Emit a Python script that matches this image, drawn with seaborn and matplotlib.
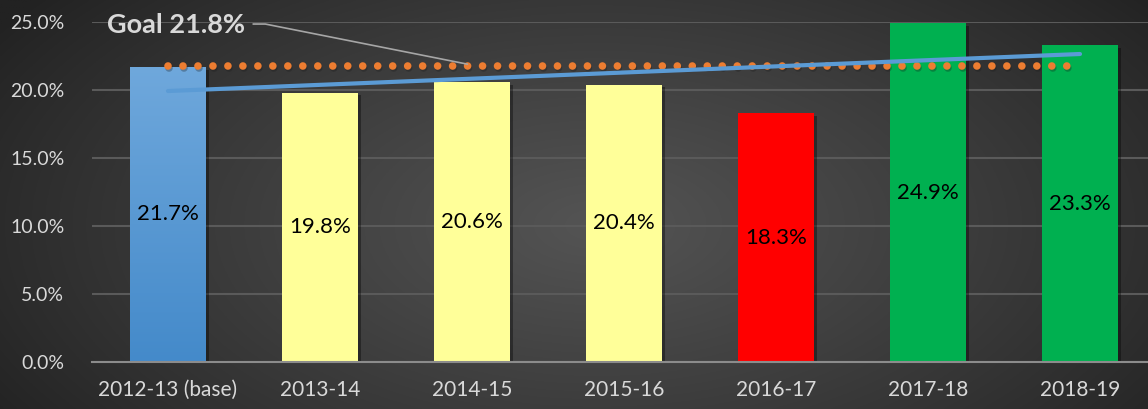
import numpy as np
import pandas as pd
import matplotlib
matplotlib.use("Agg")
import matplotlib.pyplot as plt
import matplotlib.patheffects as pe
import seaborn as sns

# Share of students meeting the benchmark, by school year
years = ["2012-13 (base)", "2013-14", "2014-15", "2015-16", "2016-17", "2017-18", "2018-19"]
rates = [21.7, 19.8, 20.6, 20.4, 18.3, 24.9, 23.3]
bar_colors = ["#5b9bd5", "#ffff99", "#ffff99", "#ffff99", "#ff0000", "#00b050", "#00b050"]
goal = 21.8
y_ticks = [0, 5, 10, 15, 20, 25]

df = pd.DataFrame({"year": years, "rate": rates})

sns.set_theme(style="dark")
plt.rcParams["font.family"] = ["Lato", "DejaVu Sans"]

W, H = 1148, 409
fig = plt.figure(figsize=(W / 100, H / 100), dpi=100)

# dark radial backdrop
bg = fig.add_axes([0, 0, 1, 1], zorder=-10)
yy, xx = np.mgrid[0:1:300j, 0:1:800j]
r = np.sqrt(((xx - 0.52) / 0.62) ** 2 + ((yy - 0.45) / 0.9) ** 2)
shade = np.clip(1 - r, 0, 1) ** 0.9
c0, c1 = np.array([0x22, 0x22, 0x22]) / 255, np.array([0x54, 0x54, 0x54]) / 255
img = c0[None, None, :] + (c1 - c0)[None, None, :] * shade[..., None]
bg.imshow(img, aspect="auto", extent=[0, 1, 0, 1], origin="lower")
bg.set_axis_off()

ax = fig.add_axes([92 / W, 47 / H, 1064 / W, 340 / H])
ax.set_facecolor("none")

sns.barplot(data=df, x="year", y="rate", hue="year", palette=bar_colors,
            legend=False, width=0.5, saturation=1, ax=ax, zorder=3)

shadow = [pe.SimplePatchShadow(offset=(2, -2), shadow_rgbFace="black", alpha=0.35), pe.Normal()]
for p in ax.patches:
    p.set_edgecolor("none")
    p.set_path_effects(shadow)

# vertical gradient on the base-year bar
base = ax.patches[0]
bx, by = base.get_x(), base.get_y()
bw, bh = base.get_width(), base.get_height()
grad = np.linspace(0, 1, 256)[:, None]
top_c, bot_c = np.array([0x6f, 0xa8, 0xdc]) / 255, np.array([0x44, 0x8a, 0xca]) / 255
gimg = bot_c[None, None, :] + (top_c - bot_c)[None, None, :] * grad[..., None]
im = ax.imshow(gimg, extent=[bx, bx + bw, by, by + bh], origin="lower",
               aspect="auto", zorder=3.5)
im.set_clip_path(base)

# value labels in the middle of each bar
for i, v in enumerate(rates):
    ax.text(i, v / 2, f"{v:.1f}%", ha="center", va="center", fontsize=16,
            color="black", zorder=6)

xs = np.arange(len(rates))

# goal line
ax.plot([xs[0], xs[-1]], [goal, goal], color="#ed7d31", lw=5.5,
        linestyle=(0, (0.001, 1.96)), dash_capstyle="round", zorder=5,
        path_effects=[pe.SimpleLineShadow(offset=(1, -2), alpha=0.3), pe.Normal()])

# linear trend of the yearly rates
slope, intercept = np.polyfit(xs, rates, 1)
ax.plot([xs[0], xs[-1]], [intercept, intercept + slope * xs[-1]],
        color="#5b9bd5", lw=3, solid_capstyle="round", zorder=5)

# goal callout
ax.text(-0.4, 24.75, f"Goal {goal}%", fontsize=19.5, fontweight="bold",
        color="#d9d9d9", ha="left", va="center", zorder=7)
ax.plot([0.56, 0.64, 1.97], [24.85, 24.85, goal + 0.1], color="#a6a6a6",
        lw=1.2, zorder=6, clip_on=False)

ax.set_xlim(-0.5, 6.5)
ax.set_ylim(0, 25)
ax.set_yticks(y_ticks)
ax.set_yticklabels([f"{t:.1f}%" for t in y_ticks])
ax.set_xlabel("")
ax.set_ylabel("")
ax.grid(axis="y", color="#5a5a5a", lw=1.5, zorder=0)
ax.grid(axis="x", visible=False)
ax.tick_params(axis="both", length=0, colors="#d9d9d9")
ax.tick_params(axis="y", pad=20, labelsize=14)
ax.tick_params(axis="x", pad=13, labelsize=15)
for s in ["top", "right", "left"]:
    ax.spines[s].set_visible(False)
ax.spines["bottom"].set_color("#8c8c8c")
ax.spines["bottom"].set_linewidth(1.5)
ax.spines["bottom"].set_zorder(4)

fig.savefig("out.png", dpi=100, facecolor="#2b2b2b")
